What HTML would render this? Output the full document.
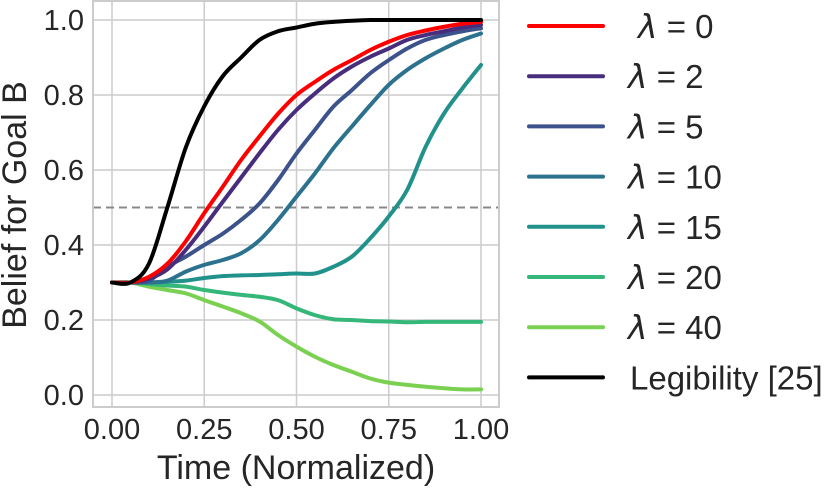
<!DOCTYPE html>
<html><head><meta charset="utf-8"><style>
body{margin:0;background:#fff;width:831px;height:488px;overflow:hidden;font-family:"Liberation Sans",sans-serif}
svg text{font-family:"Liberation Sans","DejaVu Sans",sans-serif;fill:#262626}
</style></head><body>
<svg id="chart" width="831" height="488" viewBox="0 0 831 488" xmlns="http://www.w3.org/2000/svg">
<g id="grid"></g>
<g id="series"></g>
<rect x="93" y="1" width="406" height="406" fill="none" stroke="#cccccc" stroke-width="2"/>
<g id="ticks"></g>
<text x="296" y="479" font-size="34" text-anchor="middle">Time (Normalized)</text>
<text transform="translate(26,205) rotate(-90)" font-size="34" text-anchor="middle">Belief for Goal B</text>
<g id="legend"></g>
</svg>
<script>
const xs=[0,0.05,0.1,0.15,0.2,0.25,0.3,0.35,0.4,0.45,0.5,0.55,0.6,0.65,0.7,0.75,0.8,0.85,0.9,0.95,1.0];
const xTicks=[0,0.25,0.5,0.75,1.0];
const xTickLabels=["0.00","0.25","0.50","0.75","1.00"];
const yTicks=[0,0.2,0.4,0.6,0.8,1.0];
const yTickLabels=["0.0","0.2","0.4","0.6","0.8","1.0"];
const threshold=0.5;
const labels=["λ = 0","λ = 2","λ = 5","λ = 10","λ = 15","λ = 20","λ = 40","Legibility [25]"];
const colors=["#ff0000","#472d7b","#3b528b","#2c728e","#21918c","#35b779","#7ad151","#000000"];
const lam0=[0.3,0.3,0.315,0.35,0.41,0.485,0.555,0.627,0.69,0.75,0.8,0.835,0.867,0.893,0.92,0.942,0.96,0.972,0.982,0.99,0.995];
const lam2=[0.3,0.3,0.31,0.335,0.387,0.449,0.515,0.58,0.645,0.707,0.76,0.804,0.844,0.876,0.902,0.924,0.947,0.96,0.97,0.98,0.987];
const lam5=[0.3,0.3,0.305,0.342,0.369,0.4,0.43,0.467,0.511,0.573,0.644,0.707,0.769,0.813,0.858,0.893,0.924,0.947,0.96,0.97,0.978];
const lam10=[0.3,0.3,0.3,0.305,0.329,0.347,0.36,0.378,0.413,0.467,0.529,0.591,0.658,0.716,0.773,0.827,0.867,0.898,0.924,0.947,0.964];
const lam15=[0.3,0.3,0.3,0.302,0.305,0.312,0.317,0.319,0.32,0.322,0.324,0.324,0.342,0.369,0.418,0.476,0.547,0.662,0.751,0.818,0.88];
const lam20=[0.3,0.3,0.296,0.292,0.289,0.28,0.273,0.267,0.262,0.253,0.231,0.213,0.202,0.2,0.197,0.196,0.194,0.195,0.195,0.195,0.195];
const lam40=[0.3,0.3,0.289,0.28,0.271,0.253,0.236,0.218,0.196,0.16,0.129,0.102,0.08,0.062,0.044,0.033,0.027,0.022,0.018,0.015,0.015];
const legib=[0.3,0.3,0.35,0.5,0.66,0.77,0.85,0.9,0.947,0.97,0.98,0.99,0.995,0.998,1,1,1,1,1,1,1];
const seriesVals=[lam0,lam2,lam5,lam10,lam15,lam20,lam40,legib];
const NS="http://www.w3.org/2000/svg";
const X=v=>112+v*369, Y=v=>395-v*375;
function mk(t,a,p){const e=document.createElementNS(NS,t);for(const k in a)e.setAttribute(k,a[k]);p.appendChild(e);return e;}
const grid=document.getElementById('grid'),ticks=document.getElementById('ticks');
xTicks.forEach((v,i)=>{
 const l=mk('line',{x1:X(v),x2:X(v),y1:1,y2:407,stroke:'#cccccc','stroke-width':1.5},grid);
 
 
 const t=mk('text',{x:X(v),y:439,'font-size':29,'text-anchor':'middle'},ticks);t.textContent=xTickLabels[i];
 
 
});
yTicks.forEach((v,i)=>{
 const l=mk('line',{x1:93,x2:499,y1:Y(v),y2:Y(v),stroke:'#cccccc','stroke-width':1.5},grid);
 
 
 const t=mk('text',{x:84,y:Y(v)+10,'font-size':29,'text-anchor':'end'},ticks);t.textContent=yTickLabels[i];
 
 
});
const th=mk('line',{x1:93,x2:499,y1:Y(threshold),y2:Y(threshold),stroke:'#888','stroke-width':2,'stroke-dasharray':'8,5'},grid);


function path(vals){
 const p=xs.map((x,i)=>[X(x),Y(vals[i])]);let d='M'+p[0][0]+','+p[0][1];
 for(let i=0;i<p.length-1;i++){const p0=p[Math.max(0,i-1)],p1=p[i],p2=p[i+1],p3=p[Math.min(p.length-1,i+2)];
  d+=' C'+(p1[0]+(p2[0]-p0[0])/6)+','+(p1[1]+(p2[1]-p0[1])/6)+' '+(p2[0]-(p3[0]-p1[0])/6)+','+(p2[1]-(p3[1]-p1[1])/6)+' '+p2[0]+','+p2[1];}
 return d;}
const sg=document.getElementById('series'),lg=document.getElementById('legend');
[6,5,4,3,2,1,0,7].forEach(i=>{
 const e=mk('path',{d:path(seriesVals[i]),fill:'none',stroke:colors[i],'stroke-width':4,'stroke-linecap':'round','stroke-linejoin':'round'},sg);
 
 
});
labels.forEach((s,i)=>{
 const y=26+i*50.2;
 const l=mk('line',{x1:529,x2:603,y1:y,y2:y,stroke:colors[i],'stroke-width':4,'stroke-linecap':'round'},lg);
 
 
 const t=mk('text',{x:i==0?638:628,y:y+12,'font-size':33},lg);
 if(i<7){t.innerHTML='<tspan font-style="italic" font-family="DejaVu Sans">λ</tspan> = '+s.split('= ')[1];}
 else{t.setAttribute('x',630);t.textContent=s;}
 
 
});
</script>
</body></html>
